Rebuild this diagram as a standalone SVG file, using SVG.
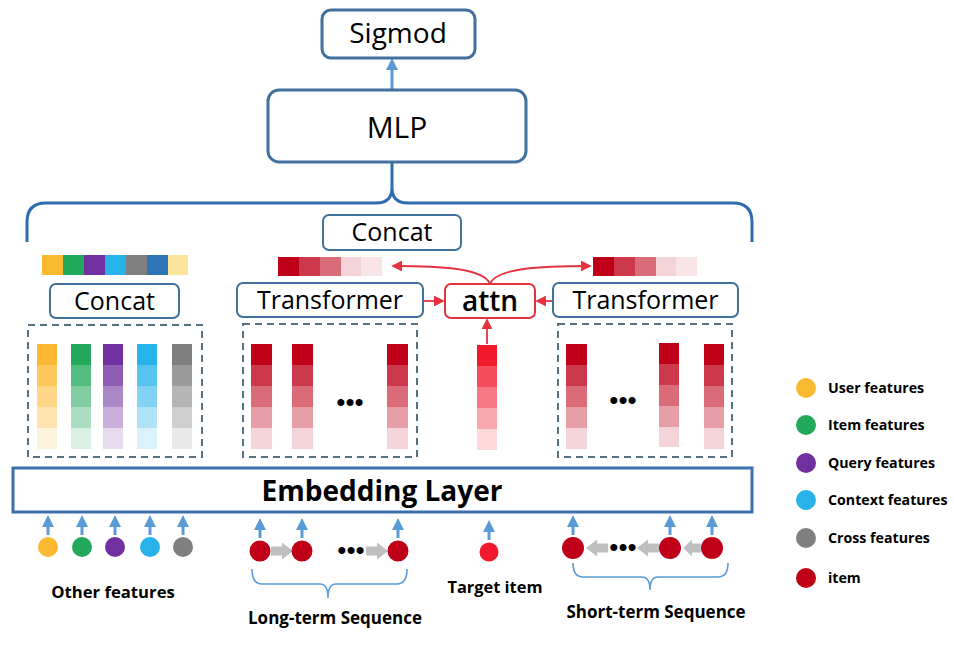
<svg xmlns="http://www.w3.org/2000/svg" width="954" height="650" viewBox="0 0 954 650">
<style>
.t{font-family:"Open Sans","Liberation Sans",sans-serif;fill:#000}
.b{font-weight:bold}
.box{fill:#fff;stroke:#41719C;stroke-width:2}
.bigbox{fill:#fff;stroke:#41719C;stroke-width:3}
.dash{fill:none;stroke:#55707F;stroke-width:2;stroke-dasharray:7 5}
.s1{fill-opacity:1}.s2{fill-opacity:.78}.s3{fill-opacity:.58}.s4{fill-opacity:.38}.s5{fill-opacity:.17}
.up{stroke:#5B9BD5;stroke-width:3;fill:none;marker-end:url(#ab)}
.red{stroke:#E5323F;stroke-width:1.8;fill:none;marker-end:url(#ar)}
.brace{fill:none;stroke:#5B9BD5;stroke-width:1.6}
.dots{font-family:"Liberation Sans",sans-serif;font-size:26px;fill:#000;text-anchor:middle}
.fat{fill:#BFBFBF}
.lg{font-size:14.2px}
.bl{font-size:17px}
</style>
<defs>
<marker id="ab" markerWidth="4" markerHeight="4" refX="2" refY="2" orient="auto" markerUnits="strokeWidth"><path d="M0,0 L4,2 L0,4 Z" fill="#5B9BD5"/></marker>
<marker id="abig" markerWidth="4" markerHeight="4" refX="2" refY="2" orient="auto" markerUnits="strokeWidth"><path d="M0,0 L4,2 L0,4 Z" fill="#5B9BD5"/></marker>
<marker id="ar" markerWidth="6" markerHeight="6" refX="5" refY="3" orient="auto" markerUnits="strokeWidth"><path d="M0,0 L6,3 L0,6 Z" fill="#E5323F"/></marker>
<path id="fa" d="M-11,-4.5 H0 V-8.5 L11,0 L0,8.5 V4.5 H-11 Z"/>
</defs>
<rect width="954" height="650" fill="#fff"/>

<g id="connectors">
  <line x1="392" y1="90" x2="392" y2="64" stroke="#5B9BD5" stroke-width="3" marker-end="url(#abig)"/>
  <path d="M27,242 V222 Q27,203 46,203 H376 Q392,203 392,188 V163 M392,188 Q392,203 408,203 H733 Q752,203 752,222 V242" fill="none" stroke="#2E6CB0" stroke-width="3"/>
  <line x1="423" y1="301" x2="443" y2="301" class="red"/>
  <line x1="553" y1="301" x2="537" y2="301" class="red"/>
  <path d="M490,284 C484,268 440,266 393,266" class="red"/>
  <path d="M490,284 C496,268 540,266 590,266" class="red"/>
  <line x1="487" y1="344" x2="487" y2="320" class="red"/>
  <line x1="48" y1="535" x2="48" y2="521" class="up"/>
  <line x1="82" y1="535" x2="82" y2="521" class="up"/>
  <line x1="115" y1="535" x2="115" y2="521" class="up"/>
  <line x1="150" y1="535" x2="150" y2="521" class="up"/>
  <line x1="183" y1="535" x2="183" y2="521" class="up"/>
  <line x1="260" y1="538" x2="260" y2="524" class="up"/>
  <line x1="302" y1="538" x2="302" y2="524" class="up"/>
  <line x1="398" y1="538" x2="398" y2="524" class="up"/>
  <line x1="489" y1="540" x2="489" y2="526" class="up"/>
  <line x1="573" y1="535" x2="573" y2="521" class="up"/>
  <line x1="670" y1="535" x2="670" y2="521" class="up"/>
  <line x1="712" y1="535" x2="712" y2="521" class="up"/>
  <use href="#fa" class="fat" transform="translate(282,551)"/>
  <use href="#fa" class="fat" transform="translate(377,551)"/>
  <use href="#fa" class="fat" transform="translate(597,548) rotate(180)"/>
  <use href="#fa" class="fat" transform="translate(648,548) rotate(180)"/>
  <use href="#fa" class="fat" transform="translate(692,548) rotate(180) scale(0.8,1)"/>
  <path class="brace" d="M252,569 Q252,584 262,584 H320 Q328,584 328,598 Q328,584 336,584 H397 Q407,584 407,569"/>
  <path class="brace" d="M573,563 Q573,577 583,577 H642 Q650,577 650,590 Q650,577 658,577 H718 Q728,577 728,563"/>
</g>

<g id="sigmod">
  <rect x="322" y="10" width="153" height="48" rx="9" class="bigbox"/>
  <text x="398" y="43" class="t" font-size="28" text-anchor="middle">Sigmod</text>
</g>
<g id="mlp">
  <rect x="268" y="90" width="258" height="72" rx="11" class="bigbox"/>
  <text x="397" y="138" class="t" font-size="30" text-anchor="middle">MLP</text>
</g>
<g id="concat-top">
  <rect x="323" y="215" width="138" height="35" rx="6" class="box" stroke-width="1.5"/>
  <text x="392" y="241" class="t" font-size="25" text-anchor="middle">Concat</text>
</g>

<g id="concat-bar">
  <rect x="42" y="255" width="21" height="20" fill="#FBB931"/>
  <rect x="63" y="255" width="21" height="20" fill="#22A95B"/>
  <rect x="84" y="255" width="21" height="20" fill="#7030A0"/>
  <rect x="105" y="255" width="21" height="20" fill="#27B3EA"/>
  <rect x="126" y="255" width="21" height="20" fill="#808080"/>
  <rect x="147" y="255" width="21" height="20" fill="#2E75B6"/>
  <rect x="168" y="255" width="20" height="20" fill="#FDE49B"/>
</g>
<g id="long-bar" fill="#C00018">
  <rect x="278" y="257" width="21" height="19" class="s1"/>
  <rect x="299" y="257" width="21" height="19" class="s2"/>
  <rect x="320" y="257" width="21" height="19" class="s3"/>
  <rect x="341" y="257" width="20" height="19" class="s5"/>
  <rect x="361" y="257" width="21" height="19" fill-opacity=".1"/>
</g>
<g id="short-bar" fill="#C00018">
  <rect x="593" y="257" width="21" height="19" class="s1"/>
  <rect x="614" y="257" width="21" height="19" class="s2"/>
  <rect x="635" y="257" width="21" height="19" class="s3"/>
  <rect x="656" y="257" width="20" height="19" class="s5"/>
  <rect x="676" y="257" width="21" height="19" fill-opacity=".1"/>
</g>

<g id="concat-left">
  <rect x="50" y="284" width="129" height="34" rx="6" class="box" stroke-width="1.5"/>
  <text x="114.5" y="310" class="t" font-size="25" text-anchor="middle">Concat</text>
</g>
<g id="transformer-left">
  <rect x="237" y="283" width="186" height="34" rx="6" class="box" stroke-width="1.5"/>
  <text x="330" y="309" class="t" font-size="25" text-anchor="middle">Transformer</text>
</g>
<g id="attn">
  <rect x="445" y="284" width="90" height="34" rx="6" fill="#fff" stroke="#E5323F" stroke-width="2"/>
  <text x="490" y="311" class="t" font-size="28" text-anchor="middle" font-weight="600">attn</text>
</g>
<g id="transformer-right">
  <rect x="553" y="283" width="185" height="34" rx="6" class="box" stroke-width="1.5"/>
  <text x="645.5" y="309" class="t" font-size="25" text-anchor="middle">Transformer</text>
</g>

<g id="other-embeddings">
  <rect x="28" y="325" width="174" height="132" class="dash"/>
  <g fill="#FBB931"><rect x="37" y="344" width="20" height="21" class="s1"/><rect x="37" y="365" width="20" height="21" class="s2"/><rect x="37" y="386" width="20" height="21" class="s3"/><rect x="37" y="407" width="20" height="21" class="s4"/><rect x="37" y="428" width="20" height="21" class="s5"/></g>
  <g fill="#22A95B"><rect x="71" y="344" width="20" height="21" class="s1"/><rect x="71" y="365" width="20" height="21" class="s2"/><rect x="71" y="386" width="20" height="21" class="s3"/><rect x="71" y="407" width="20" height="21" class="s4"/><rect x="71" y="428" width="20" height="21" class="s5"/></g>
  <g fill="#7030A0"><rect x="103" y="344" width="20" height="21" class="s1"/><rect x="103" y="365" width="20" height="21" class="s2"/><rect x="103" y="386" width="20" height="21" class="s3"/><rect x="103" y="407" width="20" height="21" class="s4"/><rect x="103" y="428" width="20" height="21" class="s5"/></g>
  <g fill="#27B3EA"><rect x="137" y="344" width="20" height="21" class="s1"/><rect x="137" y="365" width="20" height="21" class="s2"/><rect x="137" y="386" width="20" height="21" class="s3"/><rect x="137" y="407" width="20" height="21" class="s4"/><rect x="137" y="428" width="20" height="21" class="s5"/></g>
  <g fill="#7F7F7F"><rect x="172" y="344" width="20" height="21" class="s1"/><rect x="172" y="365" width="20" height="21" class="s2"/><rect x="172" y="386" width="20" height="21" class="s3"/><rect x="172" y="407" width="20" height="21" class="s4"/><rect x="172" y="428" width="20" height="21" class="s5"/></g>
</g>

<g id="long-embeddings">
  <rect x="243" y="324" width="174" height="133" class="dash"/>
  <g fill="#C00018"><rect x="251" y="344" width="21" height="21" class="s1"/><rect x="251" y="365" width="21" height="21" class="s2"/><rect x="251" y="386" width="21" height="21" class="s3"/><rect x="251" y="407" width="21" height="21" class="s4"/><rect x="251" y="428" width="21" height="21" class="s5"/></g>
  <g fill="#C00018"><rect x="292" y="344" width="21" height="21" class="s1"/><rect x="292" y="365" width="21" height="21" class="s2"/><rect x="292" y="386" width="21" height="21" class="s3"/><rect x="292" y="407" width="21" height="21" class="s4"/><rect x="292" y="428" width="21" height="21" class="s5"/></g>
  <g fill="#C00018"><rect x="387" y="344" width="21" height="21" class="s1"/><rect x="387" y="365" width="21" height="21" class="s2"/><rect x="387" y="386" width="21" height="21" class="s3"/><rect x="387" y="407" width="21" height="21" class="s4"/><rect x="387" y="428" width="21" height="21" class="s5"/></g>
  <text x="350" y="411" class="dots">•••</text>
</g>

<g id="target-embedding" fill="#F01A2C">
  <rect x="477" y="345" width="20" height="21" class="s1"/><rect x="477" y="366" width="20" height="21" class="s2"/><rect x="477" y="387" width="20" height="21" class="s3"/><rect x="477" y="408" width="20" height="21" class="s4"/><rect x="477" y="429" width="20" height="21" class="s5"/>
</g>

<g id="short-embeddings">
  <rect x="558" y="324" width="174" height="133" class="dash"/>
  <g fill="#C00018"><rect x="566" y="344" width="21" height="21" class="s1"/><rect x="566" y="365" width="21" height="21" class="s2"/><rect x="566" y="386" width="21" height="21" class="s3"/><rect x="566" y="407" width="21" height="21" class="s4"/><rect x="566" y="428" width="21" height="21" class="s5"/></g>
  <g fill="#C00018"><rect x="659" y="343" width="20" height="21" class="s1"/><rect x="659" y="364" width="20" height="21" class="s2"/><rect x="659" y="385" width="20" height="21" class="s3"/><rect x="659" y="406" width="20" height="21" class="s4"/><rect x="659" y="427" width="20" height="20" class="s5"/></g>
  <g fill="#C00018"><rect x="704" y="344" width="20" height="21" class="s1"/><rect x="704" y="365" width="20" height="21" class="s2"/><rect x="704" y="386" width="20" height="21" class="s3"/><rect x="704" y="407" width="20" height="21" class="s4"/><rect x="704" y="428" width="20" height="21" class="s5"/></g>
  <text x="623" y="409" class="dots">•••</text>
</g>

<g id="embedding-layer">
  <rect x="13" y="468" width="739" height="44" fill="#fff" stroke="#3B6FAE" stroke-width="3"/>
  <text x="382" y="501" class="t b" font-size="28" text-anchor="middle">Embedding Layer</text>
</g>

<g id="other-features">
  <circle cx="48" cy="547" r="10" fill="#FBB931"/>
  <circle cx="82" cy="547" r="10" fill="#22A95B"/>
  <circle cx="115" cy="547" r="10" fill="#7030A0"/>
  <circle cx="150" cy="547" r="10" fill="#27B3EA"/>
  <circle cx="183" cy="547" r="10" fill="#7F7F7F"/>
  <text x="113" y="598" class="t b" font-size="16.7" text-anchor="middle">Other features</text>
</g>
<g id="long-term-sequence">
  <circle cx="260" cy="551" r="10.5" fill="#C00018"/>
  <circle cx="302" cy="551" r="10.5" fill="#C00018"/>
  <circle cx="398" cy="551" r="10.5" fill="#C00018"/>
  <text x="351" y="559" class="dots">•••</text>
  <text x="335" y="624" class="t b bl" text-anchor="middle">Long-term Sequence</text>
</g>
<g id="target-item">
  <circle cx="489" cy="552" r="9.5" fill="#F01A2C"/>
  <text x="495" y="593" class="t b" font-size="16.4" text-anchor="middle">Target item</text>
</g>
<g id="short-term-sequence">
  <circle cx="573" cy="548" r="11" fill="#C00018"/>
  <circle cx="670" cy="548" r="11" fill="#C00018"/>
  <circle cx="712" cy="548" r="11" fill="#C00018"/>
  <text x="623" y="556" class="dots">•••</text>
  <text x="656" y="618" class="t b bl" text-anchor="middle">Short-term Sequence</text>
</g>

<g id="legend">
  <circle cx="806" cy="388" r="10" fill="#FBB931"/>
  <text x="828" y="393" class="t b lg">User features</text>
  <circle cx="806" cy="425" r="10" fill="#22A95B"/>
  <text x="828" y="430" class="t b lg">Item features</text>
  <circle cx="806" cy="463" r="10" fill="#7030A0"/>
  <text x="828" y="468" class="t b lg">Query features</text>
  <circle cx="806" cy="500" r="10" fill="#27B3EA"/>
  <text x="828" y="505" class="t b lg">Context features</text>
  <circle cx="806" cy="538" r="10" fill="#7F7F7F"/>
  <text x="828" y="543" class="t b lg">Cross features</text>
  <circle cx="806" cy="578" r="10" fill="#C00018"/>
  <text x="828" y="583" class="t b lg">item</text>
</g>
</svg>
